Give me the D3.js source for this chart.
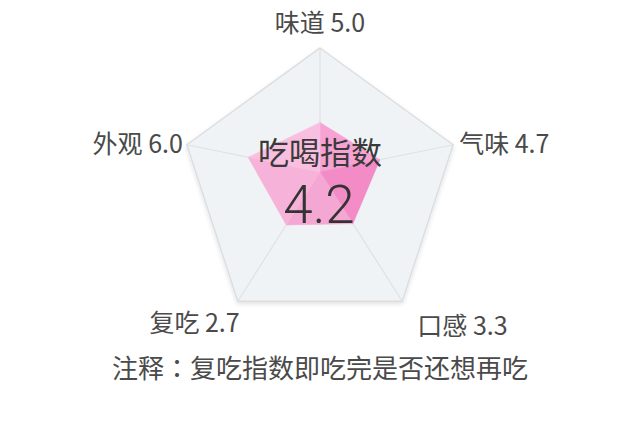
<!DOCTYPE html>
<html>
<head>
<meta charset="UTF-8">
<title>吃喝指数</title>
<script src="https://cdn.jsdelivr.net/npm/d3@7"></script>
<style>
body { margin: 0; background: #fff; }
text { font-family: "Noto Sans CJK SC", "Noto Sans", sans-serif; }
</style>
</head>
<body>
<svg class="chart" width="641" height="425"></svg>
<script>
// axes, clockwise from the top
var axes = ["味道", "气味", "口感", "复吃", "外观"];
// scores printed next to each axis
var scores = ["5.0", "4.7", "3.3", "2.7", "6.0"];
// radius of the pink shape (0 - 10)
var plotted = [4.0, 4.5, 4.0, 4.1, 5.4];
var indexTitle = "吃喝指数";
var indexValue = "4.2";
var noteHead = "注释";
var noteBody = "复吃指数即吃完是否还想再吃";

// shade of each wedge: top-right, right, bottom, bottom-left, top-left
var wedgeColors = ["#f6a2d3", "#f38bc7", "#f5a7d4", "#f7b2d9", "#f9bfe0"];

var svg = d3.select(".chart");

var cx = 320, cy = 188, R = 140;
var hub = [320, 172];   // spokes meet a bit above the middle

var angle = d3.scaleLinear().domain([0, axes.length]).range([-Math.PI / 2, 1.5 * Math.PI]);
var r = d3.scaleLinear().domain([0, 10]).range([0, 1]);

var outer = axes.map(function(d, i){
	return [cx + R * Math.cos(angle(i)), cy + R * Math.sin(angle(i))];
});

function along(i, v){
	var t = r(v);
	return [hub[0] + t * (outer[i][0] - hub[0]), hub[1] + t * (outer[i][1] - hub[1])];
}

var defs = svg.append("defs");
var f = defs.append("filter").attr("id", "shadow")
	.attr("x", "-10%").attr("y", "-10%").attr("width", "120%").attr("height", "125%");
f.append("feDropShadow").attr("dx", 0).attr("dy", 2).attr("stdDeviation", 2)
	.attr("flood-color", "#000").attr("flood-opacity", 0.12);

var line = d3.line();

//background pentagon
svg.append("path")
	.attr("d", line(outer) + "Z")
	.attr("fill", "#f0f3f5")
	.attr("stroke", "#dcdee0")
	.attr("stroke-width", 1.5)
	.attr("filter", "url(#shadow)");

//spokes
svg.selectAll(".spoke")
	.data(outer)
	.enter()
	.append("line")
	.attr("class", "spoke")
	.attr("x1", hub[0]).attr("y1", hub[1])
	.attr("x2", function(d){ return d[0]; })
	.attr("y2", function(d){ return d[1]; })
	.attr("stroke", "#dfe2e4")
	.attr("stroke-width", 1.2);

//pink shape, one wedge per pair of axes
var pts = plotted.map(function(v, i){ return along(i, v); });
svg.selectAll(".wedge")
	.data(pts)
	.enter()
	.append("path")
	.attr("class", "wedge")
	.attr("d", function(d, i){
		var next = pts[(i + 1) % pts.length];
		return line([hub, d, next]) + "Z";
	})
	.attr("fill", function(d, i){ return wedgeColors[i]; })
	.attr("stroke", function(d, i){ return wedgeColors[i]; })
	.attr("stroke-width", 0.5);

//axis labels
var labelPos = [
	{dx: 0, dy: -16, anchor: "middle"},
	{dx: 6, dy: 8, anchor: "start"},
	{dx: 15, dy: 34, anchor: "start"},
	{dx: 2, dy: 31, anchor: "end"},
	{dx: -4, dy: 8, anchor: "end"}
];
svg.selectAll(".axis-label")
	.data(axes)
	.enter()
	.append("text")
	.attr("class", "axis-label")
	.attr("x", function(d, i){ return outer[i][0] + labelPos[i].dx; })
	.attr("y", function(d, i){ return outer[i][1] + labelPos[i].dy; })
	.attr("text-anchor", function(d, i){ return labelPos[i].anchor; })
	.attr("font-size", 25)
	.attr("fill", "#4a4a4a")
	.text(function(d, i){ return d + " " + scores[i]; });

//center text
svg.append("text")
	.attr("x", cx).attr("y", 164)
	.attr("text-anchor", "middle")
	.attr("font-size", 31)
	.attr("fill", "#3a3a3a")
	.text(indexTitle);

svg.append("text")
	.attr("x", cx - 1).attr("y", 223)
	.attr("text-anchor", "middle")
	.attr("font-size", 53)
	.attr("font-weight", 300)
	.attr("fill", "#333")
	.style("font-family", "Roboto, 'Noto Sans', sans-serif")
	.text(indexValue);

//note
var noteText = svg.append("text")
	.attr("x", cx).attr("y", 378)
	.attr("text-anchor", "middle")
	.attr("font-size", 26)
	.attr("fill", "#4a4a4a");
noteText.append("tspan").text(noteHead);
noteText.append("tspan").style("font-family", "'Noto Sans CJK TC'").text("：");
noteText.append("tspan").text(noteBody);
</script>
</body>
</html>
